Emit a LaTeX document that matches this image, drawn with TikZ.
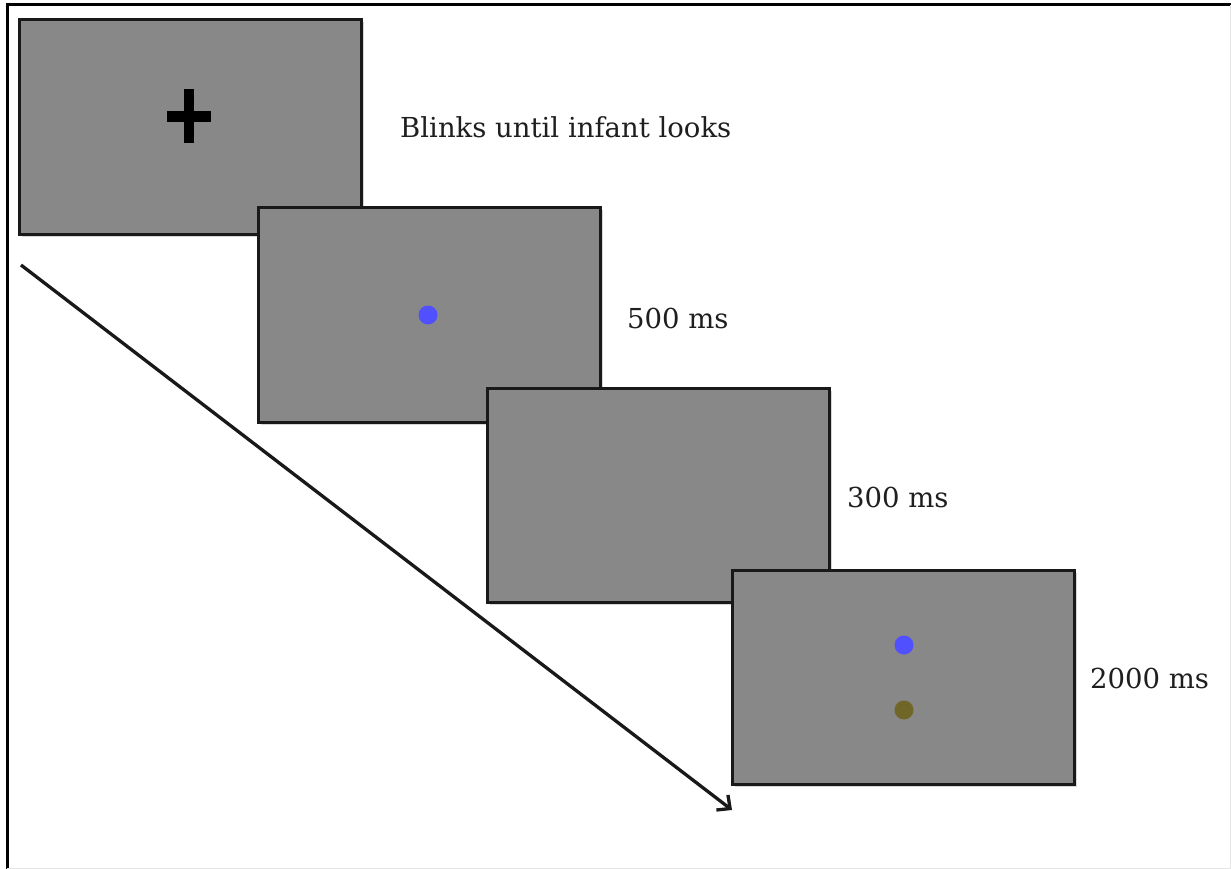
\documentclass[tikz,border=0pt]{standalone}
\usepackage{fontspec}
\setmainfont{DejaVu Serif}
\usetikzlibrary{arrows.meta,shadows}
\definecolor{screengray}{RGB}{136,136,136}
\definecolor{dotblue}{RGB}{80,80,255}
\definecolor{dotolive}{RGB}{112,102,40}
\tikzset{
  screen/.style={draw=black!90, line width=3pt, fill=screengray,
    minimum width=342pt, minimum height=214pt, inner sep=0pt,
    drop shadow={opacity=0.3, shadow xshift=2.5pt, shadow yshift=-2.5pt}},
  dot/.style={circle, inner sep=0pt, minimum size=19pt},
  lbl/.style={anchor=base west, inner sep=0pt, font=\fontsize{27.5}{33}\selectfont, text=black!88},
}
\begin{document}
\begin{tikzpicture}[x=1pt,y=-1pt]
\useasboundingbox (0,0) rectangle (1231,869);
\fill[white] (0,0) rectangle (1231,869);
% outer frame
\draw[line width=3pt, black] (7,869) -- (7,5) -- (1231,5);
\draw[line width=1pt, black!10] (7,868.5) -- (1230.5,868.5) -- (1230.5,5);
% screens
\node[screen] (s1) at (190,127) {};
\node[screen] (s2) at (429,315) {};
\node[screen] (s3) at (658,495) {};
\node[screen] (s4) at (903,677) {};
% fixation cross
\fill[black] (167,111) rectangle (211,122);
\fill[black] (184,89) rectangle (194,143);
% dots
\node[dot, fill=dotblue] (d2) at (428,315) {};
\node[dot, fill=dotblue] (d4a) at (904,645) {};
\node[dot, fill=dotolive] (d4b) at (904,710) {};
% labels
\node[lbl] (t1) at (400,138) {Blinks until infant looks};
\node[lbl] (t2) at (627,328) {500 ms};
\node[lbl] (t3) at (847,507) {300 ms};
\node[lbl] (t4) at (1090,688) {2000 ms};
% time arrow
\coordinate (astart) at (21,265);
\coordinate (aend) at (732,810);
\draw[line width=3.3pt, black!90, -{Straight Barb[length=10pt,width=19pt]}] (astart) -- (aend);
\end{tikzpicture}
\end{document}
